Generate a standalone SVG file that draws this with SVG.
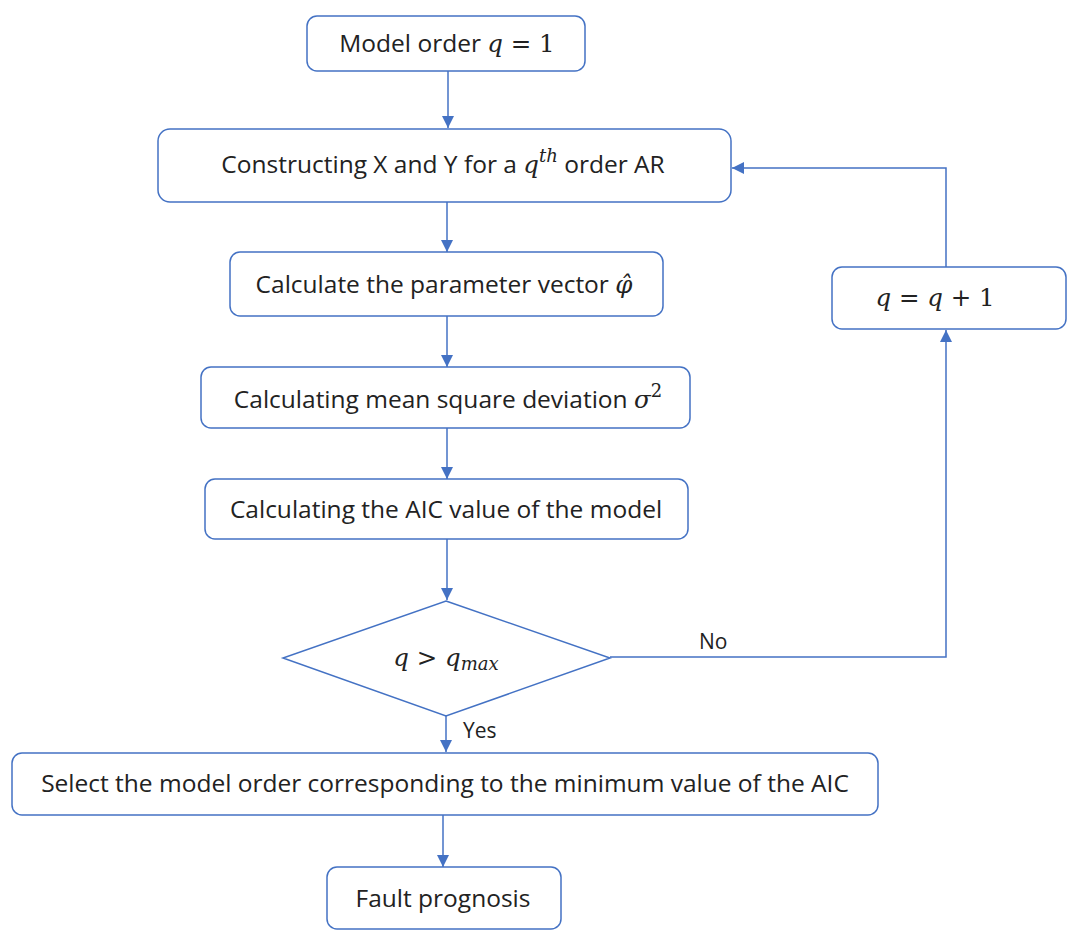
<svg xmlns="http://www.w3.org/2000/svg" width="1073" height="930" viewBox="0 0 1073 930">
<defs>
<style>
.box{fill:#fff;stroke:#4472C4;stroke-width:1.5}
.t{font-family:"Open Sans","Liberation Sans",sans-serif;font-size:24.5px;fill:#222;text-anchor:middle}
.m{font-family:"DejaVu Serif","Liberation Serif",serif;font-style:italic}
.mu{font-family:"DejaVu Serif","Liberation Serif",serif;font-style:normal}
.c{fill:none;stroke:#4472C4;stroke-width:1.5}
.lbl{font-family:"Open Sans","Liberation Sans",sans-serif;font-size:21px;fill:#222}
</style>
<marker id="ah" viewBox="0 0 12 12" refX="12" refY="6" markerWidth="12" markerHeight="12" markerUnits="userSpaceOnUse" orient="auto">
<path d="M0,0 L12,6 L0,12 z" fill="#4472C4"/>
</marker>
</defs>
<rect width="1073" height="930" fill="#fff"/>
<g id="connectors">
<line class="c" x1="448" y1="71" x2="448" y2="128" marker-end="url(#ah)"/>
<line class="c" x1="447" y1="202" x2="447" y2="252" marker-end="url(#ah)"/>
<line class="c" x1="447" y1="316" x2="447" y2="367" marker-end="url(#ah)"/>
<line class="c" x1="447" y1="428" x2="447" y2="479" marker-end="url(#ah)"/>
<line class="c" x1="447" y1="539" x2="447" y2="600" marker-end="url(#ah)"/>
<line class="c" x1="446" y1="716" x2="446" y2="752" marker-end="url(#ah)"/>
<line class="c" x1="443" y1="815" x2="443" y2="867" marker-end="url(#ah)"/>
<polyline class="c" points="610,657 946,657 946,330" marker-end="url(#ah)"/>
<polyline class="c" points="946,267 946,168 732,168" marker-end="url(#ah)"/>
<text class="lbl" x="699" y="649">No</text>
<text class="lbl" x="463" y="738">Yes</text>
</g>
<g id="n1"><rect class="box" x="307" y="16" width="278" height="55" rx="10"/>
<text class="t" x="447" y="52">Model order <tspan class="m">q</tspan><tspan class="mu"> = 1</tspan></text></g>
<g id="n2"><rect class="box" x="158" y="129" width="573" height="73" rx="12"/>
<text class="t" x="443" y="173">Constructing X and Y for a <tspan class="m">q</tspan><tspan class="m" font-size="18" dy="-11">th</tspan><tspan dy="11"> order AR</tspan></text></g>
<g id="n3"><rect class="box" x="230" y="252" width="433" height="64" rx="10"/>
<text class="t" x="444" y="293">Calculate the parameter vector <tspan class="m">φ̂</tspan></text></g>
<g id="n4"><rect class="box" x="201" y="367" width="489" height="61" rx="10"/>
<text class="t" x="448" y="408">Calculating mean square deviation <tspan class="m">σ</tspan><tspan class="mu" font-size="18" dy="-11">2</tspan></text></g>
<g id="n5"><rect class="box" x="205" y="479" width="483" height="60" rx="10"/>
<text class="t" x="446" y="518">Calculating the AIC value of the model</text></g>
<g id="n6"><polygon class="box" points="446,601 610,658 446,716 283,658"/>
<text class="t" x="446" y="666"><tspan class="m">q</tspan><tspan class="mu"> &gt; </tspan><tspan class="m">q</tspan><tspan class="m" font-size="18" dy="4">max</tspan></text></g>
<g id="n7"><rect class="box" x="832" y="267" width="234" height="62" rx="10"/>
<text class="t" x="935" y="306"><tspan class="m">q</tspan><tspan class="mu"> = </tspan><tspan class="m">q</tspan><tspan class="mu"> + 1</tspan></text></g>
<g id="n8"><rect class="box" x="12" y="753" width="866" height="62" rx="10"/>
<text class="t" x="445" y="792">Select the model order corresponding to the minimum value of the AIC</text></g>
<g id="n9"><rect class="box" x="327" y="867" width="234" height="62" rx="10"/>
<text class="t" x="443" y="907">Fault prognosis</text></g>
</svg>
